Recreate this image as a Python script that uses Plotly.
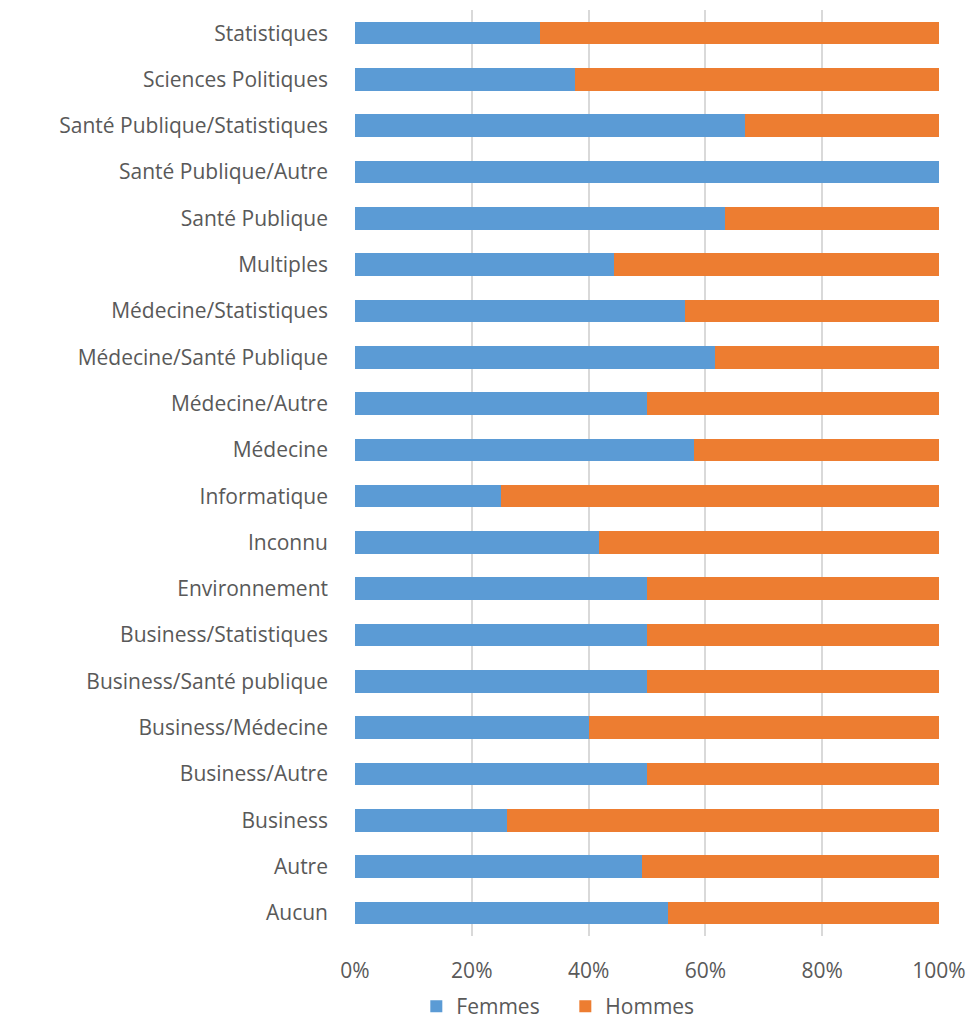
import plotly.graph_objects as go

# categories, top to bottom as in the chart
disciplines = [
    'Statistiques', 'Sciences Politiques', 'Santé Publique/Statistiques',
    'Santé Publique/Autre', 'Santé Publique', 'Multiples',
    'Médecine/Statistiques', 'Médecine/Santé Publique', 'Médecine/Autre',
    'Médecine', 'Informatique', 'Inconnu', 'Environnement',
    'Business/Statistiques', 'Business/Santé publique', 'Business/Médecine',
    'Business/Autre', 'Business', 'Autre', 'Aucun',
]
femmes = [0.317, 0.376, 0.667, 1.0, 0.634, 0.444, 0.565, 0.617, 0.5, 0.581,
          0.25, 0.418, 0.5, 0.5, 0.5, 0.4, 0.5, 0.26, 0.491, 0.536]
hommes = [0.683, 0.624, 0.333, 0.0, 0.366, 0.556, 0.435, 0.383, 0.5, 0.419,
          0.75, 0.582, 0.5, 0.5, 0.5, 0.6, 0.5, 0.74, 0.509, 0.464]

x_ticks = [0, 0.2, 0.4, 0.6, 0.8, 1.0]

fig = go.Figure()
fig.add_trace(go.Bar(y=disciplines, x=femmes, name='Femmes', orientation='h',
                     marker=dict(color='#5B9BD5', line=dict(width=0))))
fig.add_trace(go.Bar(y=disciplines, x=hommes, name='Hommes', orientation='h',
                     marker=dict(color='#ED7D31', line=dict(width=0))))

# page body has an 8px margin, so the figure is a bit smaller than the window
fig.update_layout(
    width=960, height=1019,
    margin=dict(l=347, r=27, t=2, b=91),
    barmode='stack', bargap=0.51,
    paper_bgcolor='white', plot_bgcolor='white',
    font=dict(family='Open Sans, sans-serif', size=21, color='#595959'),
    legend=dict(orientation='h', xref='paper', x=0.105, xanchor='left',
                yref='container', y=-0.011, yanchor='bottom',
                entrywidth=104, entrywidthmode='pixels',
                font=dict(size=21), traceorder='normal'),
    xaxis=dict(range=[0, 1], tickvals=x_ticks, tickformat='.0%',
               showgrid=True, gridcolor='#D9D9D9', gridwidth=1.5,
               zeroline=False, showline=False, ticklabelstandoff=20,
               tickfont=dict(size=21)),
    yaxis=dict(autorange='reversed', showgrid=False, zeroline=False,
               showline=False, ticklabelstandoff=26, tickfont=dict(size=21)),
)

fig.write_html("out.html")
